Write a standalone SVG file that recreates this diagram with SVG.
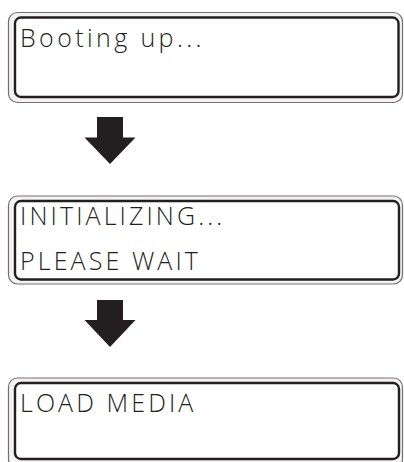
<svg xmlns="http://www.w3.org/2000/svg" width="404" height="462" viewBox="0 0 404 462">
<style>
.outer{fill:#f3f3f3;stroke:#707070;stroke-width:1.2}
.inner{fill:#ffffff;stroke:#231f20;stroke-width:2.4}
.t{font-family:"Open Sans","DejaVu Sans",sans-serif;font-weight:300;font-size:25px;fill:#231f20;letter-spacing:3.1px}
.arrow{fill:#231f20}
</style>
<rect width="404" height="462" fill="#ffffff"/>
<g id="node-booting">
<rect class="outer" x="8.5" y="12.5" width="394" height="90" rx="9"/>
<rect class="inner" x="15" y="17.5" width="383.5" height="79.5" rx="6"/>
<text class="t" x="20" y="47" style="letter-spacing:3.4px">Booting up...</text>
</g>
<g id="node-initializing">
<rect class="outer" x="8.5" y="196" width="394" height="88" rx="9"/>
<rect class="inner" x="15" y="201" width="384" height="78.5" rx="6"/>
<text class="t" x="20" y="225">INITIALIZING...</text>
<text class="t" x="20" y="270">PLEASE WAIT</text>
</g>
<g id="node-load-media">
<rect class="outer" x="8.5" y="378" width="394" height="90" rx="9"/>
<rect class="inner" x="15" y="383" width="384" height="76" rx="6"/>
<text class="t" x="20" y="412">LOAD MEDIA</text>
</g>
<g id="connectors">
<polygon class="arrow" points="97,117 123,117 123,137.5 135.5,137.5 110,164 84.5,137.5 97,137.5"/>
<polygon class="arrow" points="97,300 123,300 123,320 135.5,320 110,347 84.5,320 97,320"/>
</g>
</svg>
